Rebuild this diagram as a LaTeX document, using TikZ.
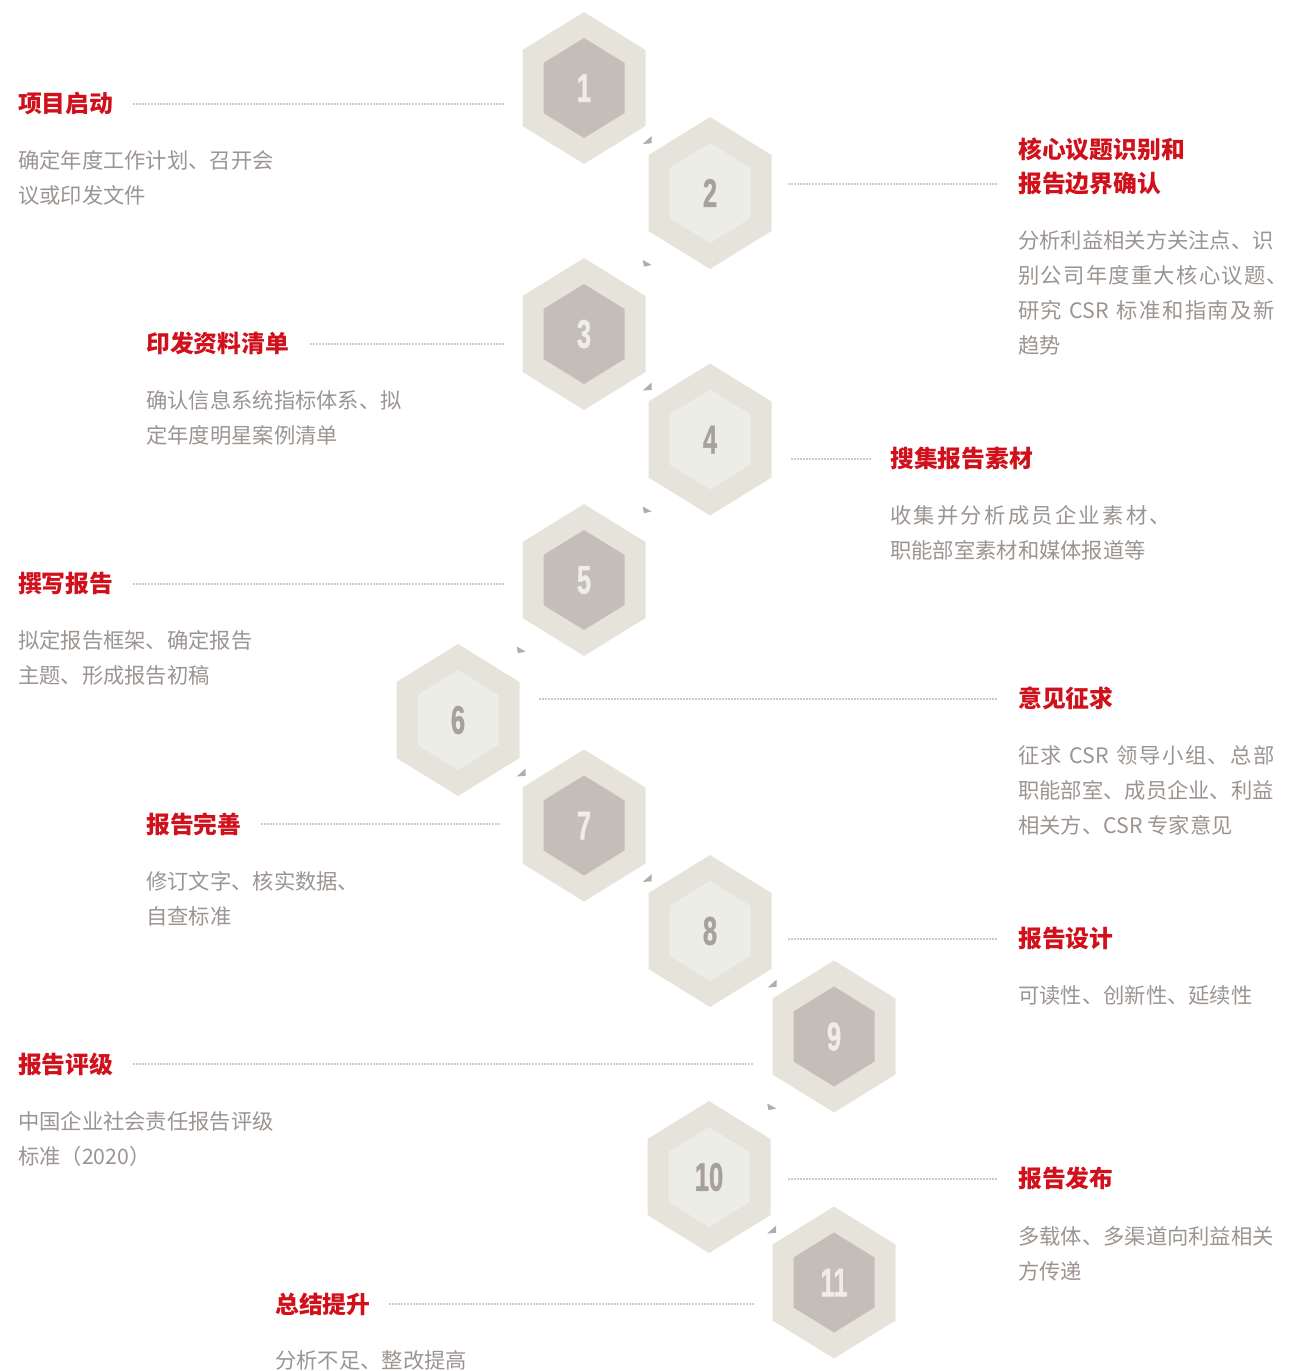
\documentclass[tikz,border=0pt]{standalone}
\usepackage{graphicx}
\usepackage{fontspec}
\setmainfont{Noto Sans CJK SC}
\newfontfamily\digitfont{Liberation Sans}[BoldFeatures={FakeBold=1.2}]
\makeatletter
\newcommand\tracked[2]{\def\trk@sep{}\@tfor\trk@c:=#2\do{\trk@sep\trk@c\def\trk@sep{\hspace{#1}}}}
\makeatother
\definecolor{titlered}{HTML}{D0101B}
\definecolor{bodygray}{HTML}{9B9490}
\definecolor{dotgray}{HTML}{9C9590}
\definecolor{hexbg}{HTML}{E6E3DB}
\definecolor{innerdark}{HTML}{C4BDB8}
\definecolor{innerlight}{HTML}{EDEDE8}
\definecolor{digitlight}{HTML}{EEEDE9}
\definecolor{digitdark}{HTML}{A8A09D}
\definecolor{trigray}{HTML}{B4ACA7}
\tikzset{
  innerdk/.style={fill=innerdark},
  innerlt/.style={fill=innerlight},
  numbase/.style={inner sep=0pt, font=\digitfont\bfseries\fontsize{40}{40}\selectfont},
  numdk/.style={numbase, text=digitlight},
  numlt/.style={numbase, text=digitdark},
  ttl/.style={anchor=base west, inner sep=0pt, text=titlered, font=\fontsize{23.8}{34}\selectfont\bfseries},
  bdy/.style={anchor=base west, inner sep=0pt, text=bodygray, font=\fontsize{21.3}{35}\selectfont},
  dots/.style={draw=dotgray, line width=1.7pt, line cap=round, dash pattern=on 0pt off 3pt},
  tri/.style={fill=trigray},
}
\begin{document}
\begin{tikzpicture}[x=1pt,y=-1pt]
\useasboundingbox (0,0) rectangle (1288,1371);
% hexagons
\foreach \n/\cx/\cy/\k in {1/584/88/dk,2/710/193/lt,3/584/334/dk,4/710/439.5/lt,5/584/580/dk,6/458/720/lt,7/584/825.5/dk,8/710/931/lt,9/834/1036.5/dk,10/709/1177/lt,11/834/1282.5/dk}{
  \begin{scope}[shift={(\cx,\cy)}]
    \fill[hexbg] (0,-76) -- (61.5,-38) -- (61.5,38) -- (0,76) -- (-61.5,38) -- (-61.5,-38) -- cycle;
    \fill[inner\k] (0,-50) -- (40.5,-25) -- (40.5,25) -- (0,50) -- (-40.5,25) -- (-40.5,-25) -- cycle;
  \end{scope}
  \node[num\k] (h\n) at (\cx,\cy) {\scalebox{0.64}[1]{\n}};
}
% small triangles
\foreach \tx/\ty in {647/140.5,647/387,521/773,647/878.5,772/984,771.5/1230}{
  \fill[tri, shift={(\tx,\ty)}] (-4.3,3.5) -- (4.7,2.8) -- (4.7,-4.5) -- cycle;
}
\foreach \tx/\ty in {647/263.5,647/510,521/650,771.5/1107}{
  \fill[tri, shift={(\tx,\ty)}] (-4.3,-3.5) -- (-3,3.2) -- (4.7,1.5) -- cycle;
}
% titles
\node[ttl] (t1) at (18,112) {项目启动};
\node[ttl] (t2) at (1018,158) {\begin{tabular}[t]{@{}l@{}}核心议题识别和\\报告边界确认\end{tabular}};
\node[ttl] (t3) at (146,352) {印发资料清单};
\node[ttl] (t4) at (890,467) {搜集报告素材};
\node[ttl] (t5) at (18,592) {撰写报告};
\node[ttl] (t6) at (1018,707) {意见征求};
\node[ttl] (t7) at (146,833) {报告完善};
\node[ttl] (t8) at (1018,947) {报告设计};
\node[ttl] (t9) at (18,1073) {报告评级};
\node[ttl] (t10) at (1018,1187) {报告发布};
\node[ttl] (t11) at (275,1313) {总结提升};
% bodies
\node[bdy] (b1) at (18,168) {\begin{tabular}[t]{@{}l@{}}确定年度工作计划、召开会\\议或印发文件\end{tabular}};
\node[bdy] (b2) at (1018,248) {\begin{tabular}[t]{@{}l@{}}分析利益相关方关注点、识\\\tracked{1.3pt}{别公司年度重大核心议题、}\\\tracked{1.45pt}{研究{ }{CSR}{ }标准和指南及新}\\趋势\end{tabular}};
\node[bdy] (b3) at (146,408) {\begin{tabular}[t]{@{}l@{}}确认信息系统指标体系、拟\\定年度明星案例清单\end{tabular}};
\node[bdy] (b4) at (890,523) {\begin{tabular}[t]{@{}l@{}}\tracked{2.3pt}{收集并分析成员企业素材、}\\职能部室素材和媒体报道等\end{tabular}};
\node[bdy] (b5) at (18,648) {\begin{tabular}[t]{@{}l@{}}拟定报告框架、确定报告\\主题、形成报告初稿\end{tabular}};
\node[bdy] (b6) at (1018,763) {\begin{tabular}[t]{@{}l@{}}\tracked{1.45pt}{征求{ }{CSR}{ }领导小组、总部}\\职能部室、成员企业、利益\\相关方、CSR 专家意见\end{tabular}};
\node[bdy] (b7) at (146,889) {\begin{tabular}[t]{@{}l@{}}修订文字、核实数据、\\自查标准\end{tabular}};
\node[bdy] (b8) at (1018,1003) {可读性、创新性、延续性};
\node[bdy] (b9) at (18,1129) {\begin{tabular}[t]{@{}l@{}}中国企业社会责任报告评级\\标准（2020）\end{tabular}};
\node[bdy] (b10) at (1018,1244) {\begin{tabular}[t]{@{}l@{}}多载体、多渠道向利益相关\\方传递\end{tabular}};
\node[bdy] (b11) at (275,1368) {分析不足、整改提高};
% dotted connectors
\coordinate (a1) at (134,104);  \coordinate (e1) at (503,104);
\coordinate (a2) at (789,184);  \coordinate (e2) at (998,184);
\coordinate (a3) at (311,344);  \coordinate (e3) at (503,344);
\coordinate (a4) at (792,459);  \coordinate (e4) at (870,459);
\coordinate (a5) at (134,584);  \coordinate (e5) at (503,584);
\coordinate (a6) at (540,699);  \coordinate (e6) at (998,699);
\coordinate (a7) at (262,824);  \coordinate (e7) at (501,824);
\coordinate (a8) at (789,939);  \coordinate (e8) at (998,939);
\coordinate (a9) at (134,1064); \coordinate (e9) at (753,1064);
\coordinate (a10) at (789,1179); \coordinate (e10) at (998,1179);
\coordinate (a11) at (390,1304); \coordinate (e11) at (753,1304);
\foreach \i in {1,...,11}{ \draw[dots] (a\i) -- (e\i); }
\end{tikzpicture}
\end{document}
